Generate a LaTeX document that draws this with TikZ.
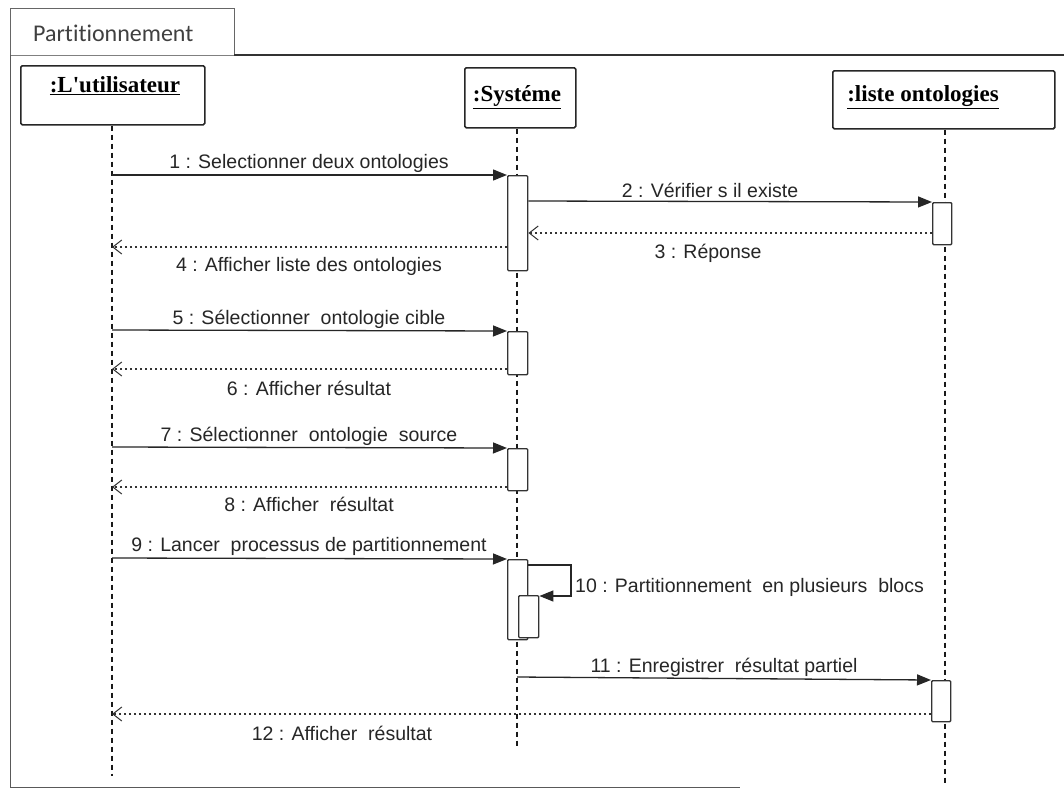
\documentclass[tikz,border=0pt]{standalone}
\usepackage{fontspec}
\setmainfont{Liberation Serif}
\setsansfont{Liberation Sans}
\newfontfamily\tabfont{Carlito}[Ligatures=NoCommon]
\newfontfamily\objfont{Liberation Serif}[Ligatures=TeXOff]
\usetikzlibrary{arrows.meta}
\tikzset{
  frameline/.style={draw=black!80, line width=1pt},
  objbox/.style={draw=black!85, line width=1.6pt, rounded corners=1.5pt, fill=white},
  objlabel/.style={font=\objfont\fontsize{23}{26}\selectfont\bfseries, inner sep=0pt},
  lifeline/.style={draw=black!90, line width=1.4pt, dash pattern=on 5pt off 4pt},
  actbox/.style={draw=black!80, line width=1.4pt, fill=white, rounded corners=1pt, inner sep=0pt, anchor=north west},
  callmsg/.style={draw=black!85, line width=1.3pt, -{Triangle[length=14pt,width=11pt]}},
  replymsg/.style={draw=black!80, line width=1.3pt, dash pattern=on 2.5pt off 2.5pt,
                   -{Straight Barb[length=9pt,width=14pt,line width=1pt]}},
  msglabel/.style={font=\sffamily\fontsize{19.5}{22}\selectfont, text=black!85, inner sep=1pt}
}
\newcommand{\ulabel}[1]{\underline{#1}}
\begin{document}
\begin{tikzpicture}[x=1pt,y=-1pt]
  \useasboundingbox (0,0) rectangle (1064,790);
  \fill[white] (0,0) rectangle (1064,790);

  % frame with its name tab
  \draw[frameline, draw=black!60] (10,55) -- (10,8) -- (234,8) -- (234,55);
  \draw[frameline, draw=black!50, line width=0.6pt] (10,55) -- (234,55);
  \draw[frameline, line width=1.5pt] (234,55) -- (1064,55);
  \draw[frameline, draw=black!65] (10,55) -- (10,787) -- (740,787);
  \node[font=\tabfont\fontsize{24}{28}\selectfont, text=black!75, anchor=west, inner sep=0pt] (tab) at (33,33) {Partitionnement};

  % objects
  \node[objbox, minimum width=184pt, minimum height=59pt, anchor=north west] (user) at (20,65) {};
  \node[objlabel] (userlbl) at (115,86) {\ulabel{:L'utilisateur}};
  \node[objbox, minimum width=111pt, minimum height=60pt, anchor=north west] (sys) at (464,67) {};
  \node[objlabel] (syslbl) at (517,97) {\ulabel{:Systéme}};
  \node[objbox, minimum width=222pt, minimum height=58pt, anchor=north west] (onto) at (832,70) {};
  \node[objlabel] (ontolbl) at (923,97) {\ulabel{:liste ontologies}};

  % lifelines
  \coordinate (uEnd) at (112,776);
  \coordinate (sEnd) at (517,748);
  \coordinate (oEnd) at (945,785);
  \draw[lifeline] (user.south -| uEnd) -- (uEnd);
  \draw[lifeline] (sys.south -| sEnd) -- (sEnd);
  \draw[lifeline] (onto.south -| oEnd) -- (oEnd);

  % activation bars
  \node[actbox, minimum width=20pt, minimum height=95pt] (a1) at (507,175) {};
  \node[actbox, minimum width=19pt, minimum height=42pt] (b1) at (932,202) {};
  \node[actbox, minimum width=20pt, minimum height=43pt] (a2) at (507,331) {};
  \node[actbox, minimum width=20pt, minimum height=42pt] (a3) at (507,448) {};
  \node[actbox, minimum width=20pt, minimum height=80pt] (a4) at (507,559) {};
  \node[actbox, minimum width=20pt, minimum height=42pt] (a5) at (518,595) {};
  \node[actbox, minimum width=19pt, minimum height=41pt] (b2) at (931,680) {};

  % user-side anchor points of the messages
  \coordinate (u1) at (112,175);
  \coordinate (u4) at (112,247);
  \coordinate (u5) at (112,330);
  \coordinate (u6) at (112,369);
  \coordinate (u7) at (112,447);
  \coordinate (u8) at (112,487);
  \coordinate (u9) at (112,558);
  \coordinate (u12) at (112,714);
  \coordinate (s11) at (517,677);
  \coordinate (loopA) at (571,565);
  \coordinate (loopB) at (571,596);

  % messages
  \draw[callmsg] (u1) -- (a1.north west);
  \node[msglabel] (m1) at (309,163) {1 : Selectionner deux ontologies};

  \draw[callmsg] (a1.north east |- 0,201) -- (b1.north west);
  \node[msglabel] (m2) at (710,190) {2 : Vérifier s il existe};

  \draw[replymsg] (b1.west |- 0,233) -- (a1.east |- 0,233);
  \node[msglabel] (m3) at (708,253) {3 : Réponse};

  \draw[replymsg] (a1.west |- 0,247) -- (u4);
  \node[msglabel] (m4) at (309,266) {4 : Afficher liste des ontologies};

  \draw[callmsg] (u5) -- (a2.north west);
  \node[msglabel] (m5) at (309,319) {5 : Sélectionner\ \ ontologie cible};

  \draw[replymsg] (a2.west |- 0,369) -- (u6);
  \node[msglabel] (m6) at (309,388) {6 : Afficher résultat};

  \draw[callmsg] (u7) -- (a3.north west);
  \node[msglabel] (m7) at (309,436) {7 : Sélectionner\ \ ontologie\ \ source};

  \draw[replymsg] (a3.west |- 0,487) -- (u8);
  \node[msglabel] (m8) at (309,504) {8 : Afficher\ \ résultat};

  \draw[callmsg] (u9) -- (a4.north west);
  \node[msglabel] (m9) at (309,546) {9 : Lancer\ \ processus de partitionnement};

  \draw[callmsg] (a4.east |- 0,565) -- (loopA) -- (loopB) -- (a5.east |- loopB);
  \node[msglabel, anchor=west] (m10) at (574,587) {10 : Partitionnement\ \ en plusieurs\ \ blocs};

  \draw[callmsg] (s11) -- (b2.north west);
  \node[msglabel] (m11) at (724,667) {11 : Enregistrer\ \ résultat partiel};

  \draw[replymsg] (b2.west |- 0,714) -- (u12);
  \node[msglabel] (m12) at (342,733) {12 : Afficher\ \ résultat};
\end{tikzpicture}
\end{document}
